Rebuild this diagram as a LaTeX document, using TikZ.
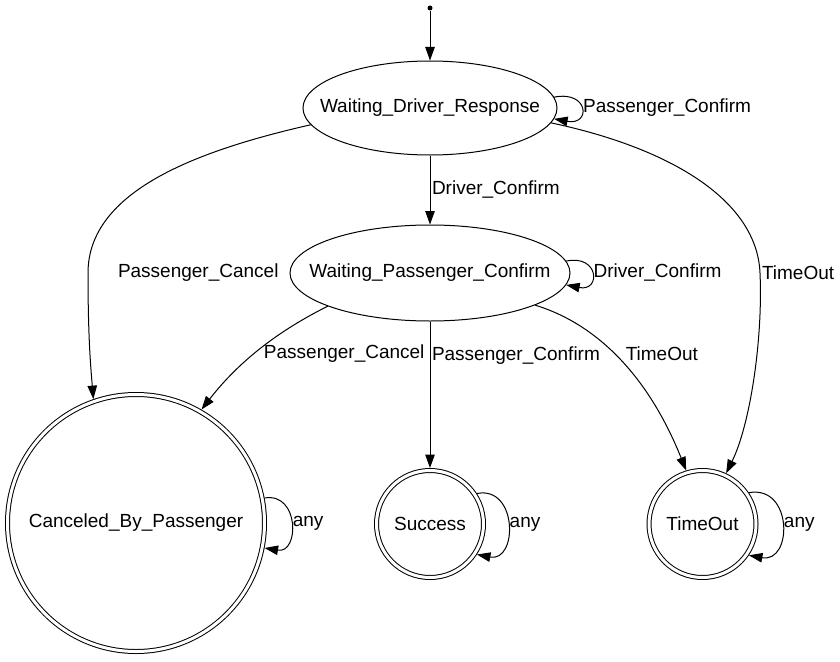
\documentclass[tikz,border=0pt]{standalone}
\usepackage{fontspec}
\setmainfont{Liberation Sans}
\usetikzlibrary{shapes.geometric,arrows.meta}

\begin{document}
\begin{tikzpicture}[x=1pt, y=-1pt, line width=1pt, font=\fontsize{19}{22}\selectfont]
\tikzstyle{state}=
[
    %Plain states, text kept out of the ellipse size
    ellipse, draw, inner sep=0pt, outer sep=0.5pt
    ]
\tikzstyle{final}=
[
    %Accepting states with a double ring
    circle, draw, double, double distance=3pt,
    inner sep=0pt, outer sep=2.5pt, minimum size=107pt
    ]
\tikzstyle{edge}=[-{Triangle[length=13.5pt,width=9.5pt]}]
\tikzstyle{lab}=[right, inner sep=1.5pt]

\useasboundingbox (0,0) rectangle (840,661);

%States
\node[circle, fill, inner sep=0pt, minimum size=5pt] (init) at (430,8) {};
\node[state, minimum width=254pt, minimum height=94pt] (wdr) at (430,108)
    {\makebox[0pt]{Waiting\_Driver\_Response}};
\node[state, minimum width=280pt, minimum height=96pt] (wpc) at (430,273)
    {\makebox[0pt]{Waiting\_Passenger\_Confirm}};
\node[final, minimum size=257pt] (cbp) at (136,523) {Canceled\_By\_Passenger};
\node[final] (suc) at (430,524) {Success};
\node[final] (tmo) at (702.5,524) {TimeOut};

%Transitions
\draw[edge] (init) -- (wdr);
\draw[edge] (wdr.5) .. controls +(35,-7) and +(37,7) .. (wdr.-5)
    node[lab, midway] {Passenger\_Confirm};
\draw[edge] (wdr) -- (wpc) node[lab, midway] {Driver\_Confirm};
\draw[edge] (wdr.188) .. controls (200,150) and (88,190) .. (88,273)
    node[lab, xshift=28pt] {Passenger\_Cancel}
    .. controls (88,340) and (91,370) .. (cbp.109);
\draw[edge] (wdr.-7) .. controls (670,148) and (757,200) .. (760,273)
    node[lab] {TimeOut}
    .. controls (763,340) and (750,425) .. (tmo.65);
\draw[edge] (wpc.5) .. controls +(33,-7) and +(35,7) .. (wpc.-5)
    node[lab, midway] {Driver\_Confirm};
\draw[edge] (wpc.198) .. controls (280,330) and (240,360) .. (cbp.60)
    node[lab, pos=0.55, xshift=7pt] {Passenger\_Cancel};
\draw[edge] (wpc) -- (suc) node[lab, pos=0.23] {Passenger\_Confirm};
\draw[edge] (wpc.-17) .. controls (600,325) and (650,380) .. (tmo.107)
    node[lab, pos=0.45, xshift=10pt] {TimeOut};

%Loops on the final states
\draw[edge] (cbp.11.5) .. controls +(35,-6) and +(35,6) .. (cbp.-11.5)
    node[lab, midway] {any};
\draw[edge] (suc.33) .. controls +(41,-8) and +(41,8) .. (suc.-33)
    node[lab, midway] {any};
\draw[edge] (tmo.34) .. controls +(44,-8) and +(44,8) .. (tmo.-34)
    node[lab, midway] {any};
\end{tikzpicture}
\end{document}
